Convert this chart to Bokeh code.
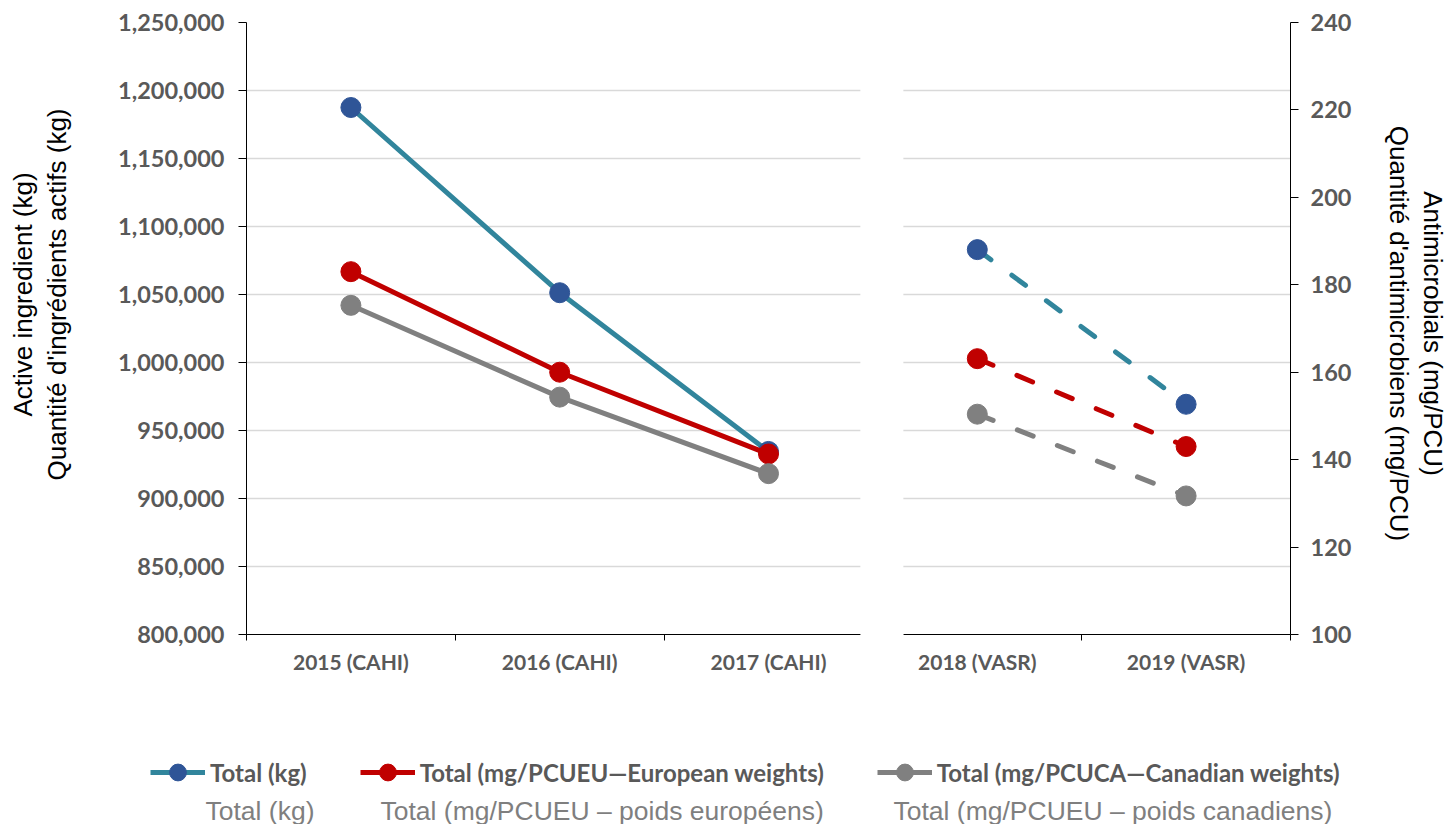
import math
from bokeh.plotting import figure
from bokeh.layouts import column, row
from bokeh.models import (Range1d, LinearAxis, FixedTicker, SingleIntervalTicker,
                          NumeralTickFormatter, Legend, LegendItem, Label, BoxAnnotation)
from bokeh.embed import file_html
from bokeh.resources import INLINE

# ---------------- data ----------------
categories = ["2015 (CAHI)", "2016 (CAHI)", "2017 (CAHI)", "2018 (VASR)", "2019 (VASR)"]
total_kg = [1187500, 1051300, 934600, 1083000, 969300]          # left axis (kg)
eu_mg_pcu = [183.0, 160.0, 141.3, 163.1, 143.0]                  # right axis (mg/PCU)
ca_mg_pcu = [175.3, 154.3, 136.8, 150.4, 131.7]                  # right axis (mg/PCU)

legend_en = ["Total (kg)", "Total (mg/PCUEU\u2014European weights)", "Total (mg/PCUCA\u2014Canadian weights)"]
legend_fr = ["Total (kg)", "Total (mg/PCUEU \u2013 poids europ\u00e9ens)", "Total (mg/PCUEU \u2013 poids canadiens)"]

left_title = ["Active ingredient (kg)", "Quantit\u00e9 d'ingr\u00e9dients actifs (kg)"]
right_title = ["Antimicrobials (mg/PCU)", "Quantit\u00e9 d'antimicrobiens (mg/PCU)"]

# ---------------- styles ----------------
TEAL = "#31859C"
BLUE = "#2F5597"
RED = "#C00000"
GRAY = "#808080"
TICK_COL = "#595959"
GRID = "#D9D9D9"
LW = 5
MS = 20

FRAME_L, FRAME_R, FRAME_T, FRAME_B = 246, 1290, 22, 634   # page pixels
H_MAIN = 740
H_LEG = 84
W_LT = 80
W_RT = 78
W_MAIN = 1448 - W_LT - W_RT

xs = [i + 0.5 for i in range(len(categories))]
n_solid = sum(1 for c in categories if "CAHI" in c)


def blank(width, height, xr=(0, 1), yr=(0, 1)):
    f = figure(width=width, height=height, x_range=Range1d(*xr), y_range=Range1d(*yr),
               x_axis_type=None, y_axis_type=None, output_backend="svg",
               toolbar_location=None, title=None, min_border=0)
    f.outline_line_color = None
    f.grid.visible = False
    return f


p = figure(width=W_MAIN, height=H_MAIN, x_range=Range1d(0, len(categories)),
           y_range=Range1d(800000, 1250000), output_backend="svg",
           toolbar_location=None, title=None,
           min_border_left=FRAME_L - W_LT, min_border_right=W_LT + W_MAIN - FRAME_R,
           min_border_top=FRAME_T, min_border_bottom=H_MAIN - FRAME_B)
p.extra_y_ranges = {"right": Range1d(100, 240)}
p.outline_line_color = None

# x axis (ticks on category boundaries, no tick at the survey break)
xa = p.xaxis[0]
xa.ticker = FixedTicker(ticks=xs, minor_ticks=[b for b in range(len(categories) + 1) if b != n_solid])
xa.major_label_overrides = {x: c for x, c in zip(xs, categories)}
xa.major_tick_out = 0
xa.major_tick_in = 0
xa.minor_tick_out = 6
xa.minor_tick_in = 0
xa.minor_tick_line_color = "#000000"
xa.axis_line_color = "#000000"
xa.axis_line_dash = "614 43 400"
xa.major_label_text_font = "Lato"
xa.major_label_text_font_style = "bold"
xa.major_label_text_font_size = "21px"
xa.major_label_text_color = TICK_COL
xa.major_label_standoff = 8
p.xgrid.visible = False

# left axis
ya = p.yaxis[0]
ya.ticker = SingleIntervalTicker(interval=50000, num_minor_ticks=0)
ya.formatter = NumeralTickFormatter(format="0,0")
ya.major_tick_out = 8
ya.major_tick_in = 0
ya.minor_tick_out = 0
ya.minor_tick_in = 0
ya.axis_line_color = "#000000"
ya.major_tick_line_color = "#000000"
ya.major_label_text_font = "Lato"
ya.major_label_text_font_style = "bold"
ya.major_label_text_font_size = "23.5px"
ya.major_label_text_color = TICK_COL
ya.major_label_standoff = 14
p.ygrid.grid_line_color = GRID
p.ygrid.grid_line_width = 1.5
p.ygrid.ticker = ya.ticker

# right axis
ra = LinearAxis(y_range_name="right", ticker=SingleIntervalTicker(interval=20, num_minor_ticks=0))
ra.major_tick_out = 8
ra.major_tick_in = 0
ra.minor_tick_out = 0
ra.minor_tick_in = 0
ra.axis_line_color = "#000000"
ra.major_tick_line_color = "#000000"
ra.major_label_text_font = "Lato"
ra.major_label_text_font_style = "bold"
ra.major_label_text_font_size = "23.5px"
ra.major_label_text_color = TICK_COL
ra.major_label_standoff = 12
p.add_layout(ra, "right")

# series
series = [
    (total_kg, "default", TEAL, BLUE),
    (eu_mg_pcu, "right", RED, RED),
    (ca_mg_pcu, "right", GRAY, GRAY),
]
for vals, rng, lc, mc in series:
    p.line(xs[:n_solid], vals[:n_solid], line_color=lc, line_width=LW,
           line_join="round", line_cap="round", y_range_name=rng)
    p.line(xs[n_solid:], vals[n_solid:], line_color=lc, line_width=LW,
           line_dash="17 26", line_cap="round", y_range_name=rng)
    p.scatter(xs, vals, marker="circle", size=MS, fill_color=mc, line_color=mc,
              y_range_name=rng)

# white gap between the two survey periods
gap = BoxAnnotation(left=2.94, right=3.146, fill_color="white", fill_alpha=1.0,
                    line_color=None, level="overlay")
p.add_layout(gap)

# ---------------- axis titles (frames are aligned with the main frame) ----------------
lt = blank(W_LT, H_MAIN)
for x, t in zip([22, 56], left_title):
    lt.add_layout(Label(x=x, y=FRAME_B - 294, x_units="screen", y_units="screen", text=t,
                        angle=math.pi / 2, text_font="Liberation Sans", text_font_size="26px",
                        text_color="#000000", text_align="center", text_baseline="middle"))

rt = blank(W_RT, H_MAIN)
for x, t in zip([62, 28], right_title):
    rt.add_layout(Label(x=x, y=FRAME_B - 333, x_units="screen", y_units="screen", text=t,
                        angle=-math.pi / 2, text_font="Liberation Sans", text_font_size="26px",
                        text_color="#000000", text_align="center", text_baseline="middle"))

# ---------------- legend ----------------
lg = blank(W_LT + W_MAIN + W_RT, H_LEG)
items = []
for (vals, rng, lc, mc), lab in zip(series, legend_en):
    # same series drawn far outside this strip's view: only their legend swatches show
    lr = lg.line(xs, vals, line_color=lc, line_width=LW)
    sr = lg.scatter(xs, vals, marker="circle", size=MS, fill_color=mc, line_color=mc)
    items.append(LegendItem(label=lab, renderers=[lr, sr]))
leg = Legend(items=items, orientation="horizontal", location=(150, H_LEG - 32 - 21),
             spacing=53, padding=0, margin=0, glyph_width=55, glyph_height=42,
             label_standoff=5, label_text_font="Lato", label_text_font_style="bold",
             label_text_font_size="24px", label_text_color=TICK_COL,
             border_line_color=None, background_fill_alpha=0)
lg.add_layout(leg, "center")
for x, t in zip([205, 380, 893], legend_fr):
    lg.add_layout(Label(x=x, y=H_LEG - 70, x_units="screen", y_units="screen", text=t,
                        text_font="Liberation Sans", text_font_size="26.5px",
                        text_color="#7F7F7F", text_align="left", text_baseline="middle"))

layout = column(row(lt, p, rt, spacing=0), lg, spacing=0)
open("out.html", "w").write(file_html(layout, INLINE))
